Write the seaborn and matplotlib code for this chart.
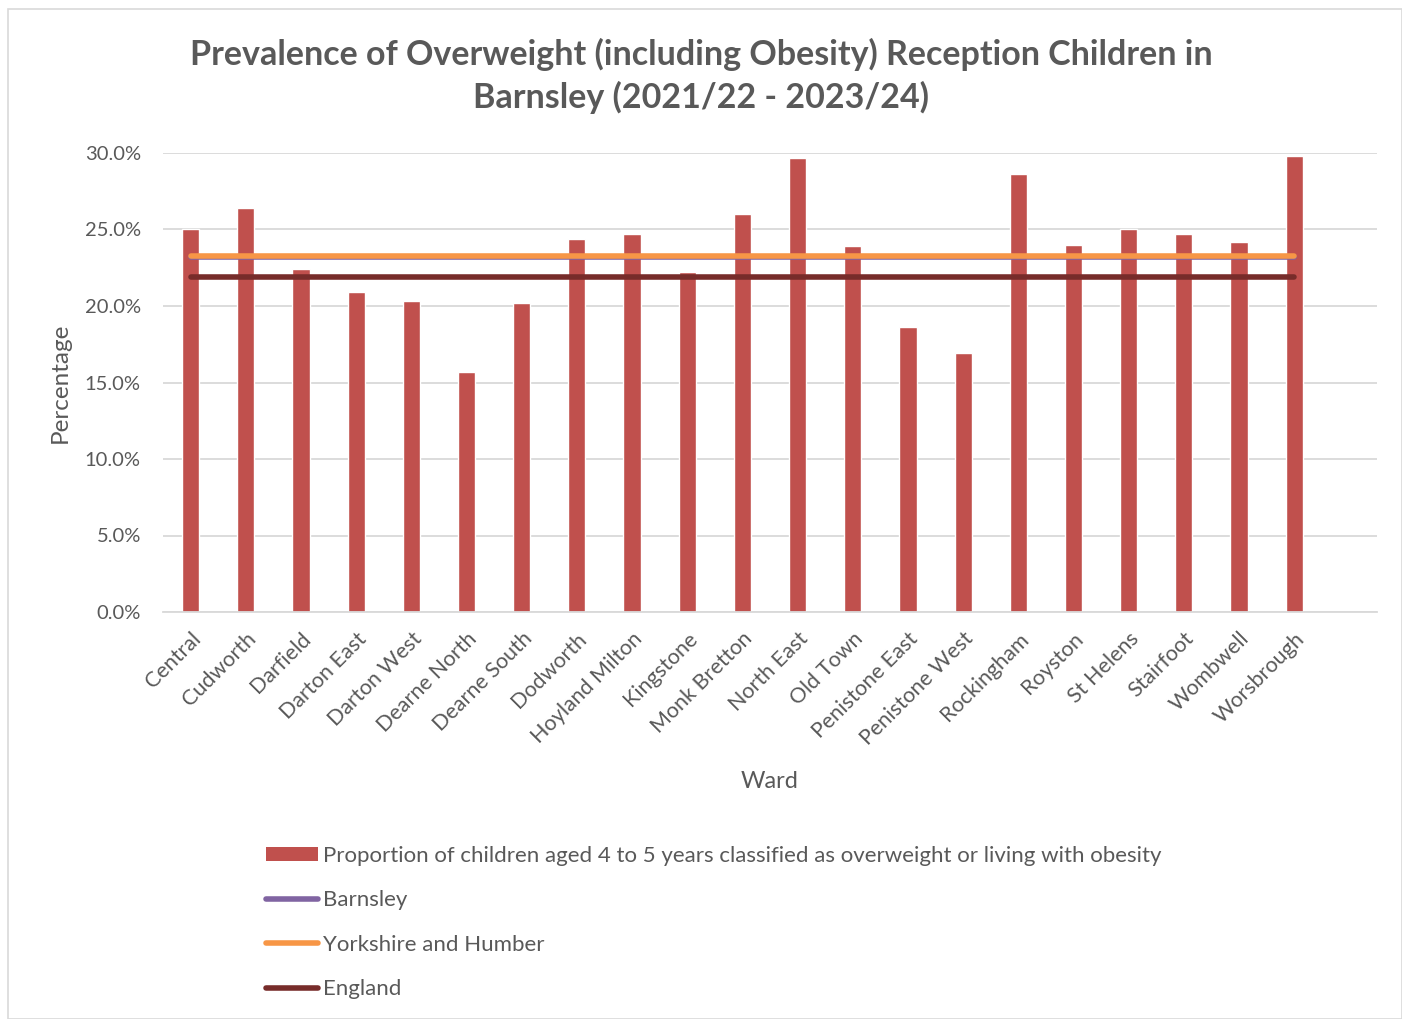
import matplotlib
matplotlib.use('Agg')
import matplotlib.pyplot as plt
import seaborn as sns
import pandas as pd
from matplotlib.lines import Line2D
from matplotlib.patches import Patch, Rectangle
from matplotlib.ticker import FuncFormatter

wards = ["Central", "Cudworth", "Darfield", "Darton East", "Darton West", "Dearne North",
         "Dearne South", "Dodworth", "Hoyland Milton", "Kingstone", "Monk Bretton", "North East",
         "Old Town", "Penistone East", "Penistone West", "Rockingham", "Royston", "St Helens",
         "Stairfoot", "Wombwell", "Worsbrough"]
prevalence = [25.0, 26.4, 22.4, 20.9, 20.3, 15.7, 20.2, 24.4, 24.7, 22.2, 26.0, 29.7,
              23.9, 18.6, 16.9, 28.6, 24.0, 25.0, 24.7, 24.2, 29.8]
barnsley = 23.2
yorkshire = 23.3
england = 21.9

bar_label = "Proportion of children aged 4 to 5 years classified as overweight or living with obesity"

sns.set_theme(style="white")
plt.rcParams['font.family'] = ['Lato', 'DejaVu Sans']
txt = '#595959'

fig = plt.figure(figsize=(14.02, 10.19), dpi=100)
ax = fig.add_axes([163 / 1402, 1 - 612 / 1019, (1377 - 163) / 1402, (612 - 153) / 1019])

df = pd.DataFrame({"ward": wards, "value": prevalence})
sns.barplot(data=df, x="ward", y="value", color="#c0504d", width=0.31, saturation=1, ax=ax, zorder=2)

n = len(wards)
ax.plot([0, n - 1], [barnsley, barnsley], color="#8064a2", lw=4, solid_capstyle='round', zorder=3)
ax.plot([0, n - 1], [yorkshire, yorkshire], color="#f79646", lw=4, solid_capstyle='round', zorder=4)
ax.plot([0, n - 1], [england, england], color="#772c2a", lw=4, solid_capstyle='round', zorder=3)

ax.set_ylim(0, 30)
# chart area leaves one empty slot on the right
ax.set_xlim(-0.5, n + 0.5)
ax.set_yticks([0, 5, 10, 15, 20, 25, 30])
ax.yaxis.set_major_formatter(FuncFormatter(lambda v, p: f"{v:.1f}%"))
ax.grid(axis='y', color='#d9d9d9', lw=1.3, zorder=0)
ax.set_axisbelow(True)
for s in ['top', 'right', 'left']:
    ax.spines[s].set_visible(False)
ax.spines['bottom'].set_color('#d9d9d9')
ax.spines['bottom'].set_linewidth(1.3)
ax.tick_params(axis='both', length=0, colors=txt, labelsize=14.5)
ax.tick_params(axis='x', labelsize=15.5, pad=12)
ax.tick_params(axis='y', pad=16)
plt.setp(ax.get_xticklabels(), rotation=45, ha='right', rotation_mode='anchor')

ax.set_xlabel("Ward", fontsize=17, color=txt, labelpad=16)
ax.set_ylabel("Percentage", fontsize=17.5, color=txt, labelpad=10)

fig.text(0.5, 1 - 76 / 1019, "Prevalence of Overweight (including Obesity) Reception Children in\nBarnsley (2021/22 - 2023/24)",
         ha='center', va='center', fontsize=24.5, fontweight='bold', color=txt, linespacing=1.35)

handles = [Patch(facecolor="#c0504d", edgecolor='none'),
           Line2D([0], [0], color="#8064a2", lw=4, solid_capstyle='round'),
           Line2D([0], [0], color="#f79646", lw=4, solid_capstyle='round'),
           Line2D([0], [0], color="#772c2a", lw=4, solid_capstyle='round')]
labels = [bar_label, "Barnsley", "Yorkshire and Humber", "England"]
leg = fig.legend(handles, labels, loc='upper left', bbox_to_anchor=(246 / 1402, 1 - 826 / 1019),
                 frameon=False, fontsize=16, labelspacing=1.1, handlelength=2.35,
                 handletextpad=0.2, handleheight=0.6)
for t in leg.get_texts():
    t.set_color(txt)

fig.patches.append(Rectangle((8 / 1402, 0), 1 - 8 / 1402, 1 - 9 / 1019, transform=fig.transFigure,
                             fill=False, edgecolor='#d9d9d9', lw=1.2))

fig.savefig("out.png", dpi=100)
